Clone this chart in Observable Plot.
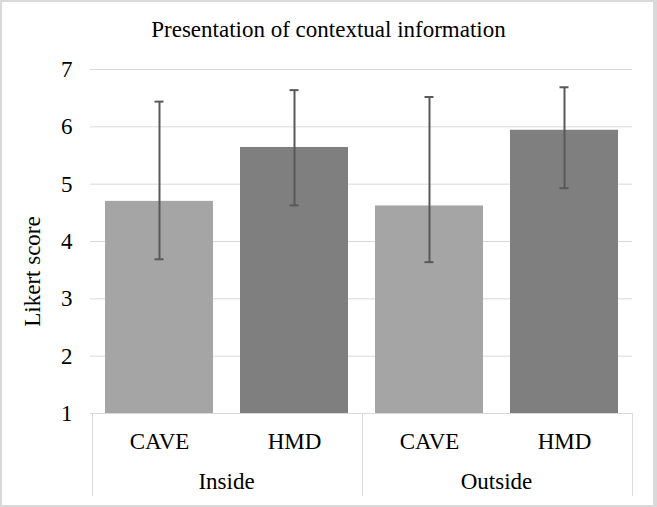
<!DOCTYPE html>
<html><head><meta charset="utf-8">
<script src="https://cdn.jsdelivr.net/npm/d3@7"></script>
<script src="https://cdn.jsdelivr.net/npm/@observablehq/plot@0.6"></script>
<style>
html,body{margin:0;padding:0;background:#fff;}
#wrap{position:relative;width:657px;height:507px;overflow:hidden;}
#title{position:absolute;left:0;top:0;width:657px;height:60px;line-height:60px;text-align:center;font-family:"Liberation Serif","Times New Roman",serif;font-size:23px;color:#000;}
#border{position:absolute;left:0;top:0;width:657px;height:507px;box-sizing:border-box;border:2px solid #d9d9d9;border-right-width:4px;pointer-events:none;}
</style></head><body>
<div id="wrap"><div id="chart"></div><div id="title"></div><div id="border"></div></div>
<script>
const title = "Presentation of contextual information";
const yLabel = "Likert score";
const groups = ["Inside", "Inside", "Outside", "Outside"];
const devices = ["CAVE", "HMD", "CAVE", "HMD"];
const means = [4.70, 5.64, 4.62, 5.94];
const errLow = [3.69, 4.63, 3.64, 4.93];
const errHigh = [6.44, 6.64, 6.52, 6.69];
const yTicks = [1, 2, 3, 4, 5, 6, 7];
const deviceNames = ["CAVE", "HMD"];
const deviceColors = ["#a5a5a5", "#7f7f7f"];

const data = groups.map((g, i) => ({
  key: g + " " + devices[i], group: g, device: devices[i],
  mean: means[i], lo: errLow[i], hi: errHigh[i]
}));
const keys = data.map(d => d.key);
const groupNames = [...new Set(groups)];
const FONT = "Liberation Serif, Times New Roman, serif";
const FS = 23;

function categoryBox(index, scales, values, dims) {
  const {x, y} = scales;
  const bw = x.bandwidth(), step = x.step();
  const half = (step - bw) / 2;
  const top = y(yTicks[0]);
  const bottom = dims.height - 11;
  const g = d3.create("svg:g");
  const edges = new Set();
  for (const name of groupNames) {
    const ks = data.filter(d => d.group === name).map(d => d.key);
    const left = x(ks[0]) - half, right = x(ks[ks.length - 1]) + bw + half;
    edges.add(Math.round(left)); edges.add(Math.round(right));
    g.append("text")
      .attr("x", (left + right) / 2).attr("y", bottom - 7)
      .attr("text-anchor", "middle").attr("fill", "#000")
      .attr("font-size", FS).text(name);
  }
  for (const e of edges) {
    g.append("line").attr("x1", e + 0.5).attr("x2", e + 0.5)
      .attr("y1", top).attr("y2", bottom)
      .attr("stroke", "#d9d9d9");
  }
  return g.node();
}

document.getElementById("title").textContent = title;

const chart = Plot.plot({
  width: 657, height: 507,
  marginTop: 69, marginRight: 25, marginBottom: 94, marginLeft: 90,
  style: {fontFamily: FONT, fontSize: FS + "px", color: "#000", background: "#fff"},
  x: {domain: keys, paddingInner: 0.2, paddingOuter: 0.1, axis: null},
  y: {domain: [1, 7], ticks: yTicks, axis: null},
  color: {domain: deviceNames, range: deviceColors},
  marks: [
    Plot.gridY(yTicks, {stroke: "#d9d9d9", strokeOpacity: 1}),
    Plot.barY(data, {x: "key", y1: yTicks[0], y2: "mean", fill: "device"}),
    Plot.ruleX(data, {x: "key", y1: "lo", y2: "hi", stroke: "#595959", strokeWidth: 2}),
    Plot.tickY(data, {x: "key", y: "hi", stroke: "#595959", strokeWidth: 2, insetLeft: 49.5, insetRight: 49.5}),
    Plot.tickY(data, {x: "key", y: "lo", stroke: "#595959", strokeWidth: 2, insetLeft: 49.5, insetRight: 49.5}),
    Plot.axisY(yTicks, {tickSize: 0, tickPadding: 18, label: null, fontSize: FS, tickFormat: d => String(d)}),
    Plot.axisX(keys, {tickSize: 0, tickPadding: 19, label: null, fontSize: FS,
      tickFormat: k => data.find(d => d.key === k).device}),
    Plot.text([yLabel], {frameAnchor: "left", textAnchor: "middle", rotate: -90, dx: -58, dy: 30, fontSize: FS, fill: "#000"}),
    categoryBox
  ]
});
document.getElementById("chart").appendChild(chart);
</script>
</body></html>
